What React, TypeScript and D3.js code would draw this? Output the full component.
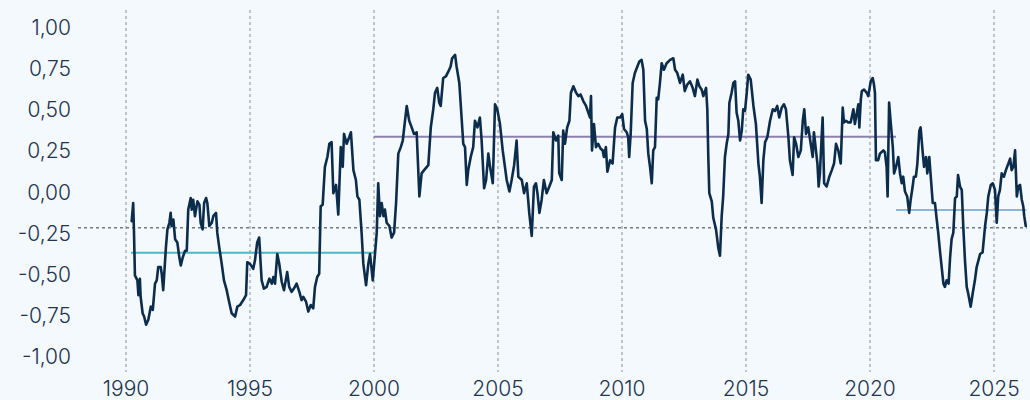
import React from "react";
import * as d3 from "d3";

// decimal year, value
const series: [number, number][] = [
  [1990.23,-0.18],[1990.29,-0.07],[1990.32,-0.23],[1990.36,-0.51],[1990.46,-0.54],[1990.50,-0.63],[1990.56,-0.53],[1990.59,-0.64],
  [1990.67,-0.74],[1990.73,-0.76],[1990.81,-0.81],[1990.90,-0.78],[1991.00,-0.70],[1991.08,-0.72],[1991.17,-0.56],[1991.24,-0.54],
  [1991.30,-0.46],[1991.40,-0.46],[1991.44,-0.50],[1991.50,-0.60],[1991.61,-0.34],[1991.67,-0.23],[1991.75,-0.19],[1991.80,-0.13],
  [1991.84,-0.21],[1991.91,-0.17],[1991.98,-0.29],[1992.07,-0.31],[1992.15,-0.40],[1992.21,-0.45],[1992.29,-0.40],[1992.38,-0.36],
  [1992.45,-0.36],[1992.51,-0.11],[1992.61,-0.04],[1992.65,-0.11],[1992.71,-0.05],[1992.78,-0.15],[1992.88,-0.06],[1992.96,-0.08],
  [1993.01,-0.19],[1993.09,-0.23],[1993.15,-0.07],[1993.23,-0.04],[1993.28,-0.07],[1993.36,-0.21],[1993.46,-0.19],[1993.52,-0.15],
  [1993.63,-0.13],[1993.68,-0.25],[1993.76,-0.34],[1993.86,-0.44],[1993.95,-0.54],[1994.06,-0.60],[1994.17,-0.68],[1994.26,-0.74],
  [1994.40,-0.76],[1994.49,-0.70],[1994.60,-0.69],[1994.73,-0.66],[1994.84,-0.63],[1994.89,-0.43],[1995.00,-0.44],[1995.13,-0.47],
  [1995.20,-0.42],[1995.29,-0.31],[1995.37,-0.28],[1995.43,-0.44],[1995.47,-0.54],[1995.56,-0.59],[1995.67,-0.58],[1995.78,-0.53],
  [1995.88,-0.56],[1995.94,-0.52],[1996.01,-0.56],[1996.10,-0.38],[1996.18,-0.44],[1996.28,-0.55],[1996.37,-0.60],[1996.50,-0.49],
  [1996.58,-0.58],[1996.68,-0.61],[1996.77,-0.59],[1996.88,-0.56],[1996.99,-0.61],[1997.08,-0.66],[1997.15,-0.64],[1997.26,-0.67],
  [1997.35,-0.73],[1997.45,-0.69],[1997.55,-0.71],[1997.62,-0.58],[1997.71,-0.52],[1997.79,-0.50],[1997.85,-0.09],[1997.93,-0.08],
  [1998.02,0.15],[1998.12,0.21],[1998.20,0.29],[1998.29,0.30],[1998.36,-0.01],[1998.47,0.04],[1998.56,-0.14],[1998.66,0.27],
  [1998.74,0.15],[1998.79,0.35],[1998.90,0.29],[1999.00,0.33],[1999.07,0.36],[1999.17,0.13],[1999.27,0.07],[1999.33,-0.03],
  [1999.41,-0.05],[1999.50,-0.25],[1999.57,-0.44],[1999.68,-0.57],[1999.77,-0.44],[1999.84,-0.38],[1999.95,-0.54],[2000.04,-0.38],
  [2000.11,-0.25],[2000.17,0.05],[2000.24,-0.15],[2000.31,-0.07],[2000.38,-0.15],[2000.44,-0.11],[2000.51,-0.19],[2000.62,-0.21],
  [2000.71,-0.28],[2000.81,-0.25],[2000.89,-0.07],[2000.98,0.23],[2001.08,0.27],[2001.16,0.31],[2001.25,0.43],[2001.32,0.52],
  [2001.42,0.43],[2001.52,0.39],[2001.61,0.35],[2001.72,0.36],[2001.83,-0.03],[2001.92,0.11],[2002.02,0.13],[2002.19,0.16],
  [2002.29,0.39],[2002.39,0.50],[2002.46,0.60],[2002.55,0.63],[2002.63,0.54],[2002.69,0.52],[2002.79,0.69],[2002.90,0.70],
  [2003.00,0.73],[2003.09,0.76],[2003.15,0.81],[2003.27,0.83],[2003.33,0.76],[2003.44,0.66],[2003.54,0.43],[2003.60,0.29],
  [2003.67,0.27],[2003.74,0.04],[2003.80,0.13],[2003.90,0.21],[2004.00,0.27],[2004.07,0.43],[2004.17,0.39],[2004.27,0.45],
  [2004.34,0.31],[2004.44,0.02],[2004.52,0.07],[2004.61,0.23],[2004.68,0.15],[2004.79,0.05],[2004.88,0.53],[2004.97,0.50],
  [2005.08,0.41],[2005.19,0.25],[2005.28,0.15],[2005.35,0.07],[2005.46,0.00],[2005.55,0.07],[2005.65,0.16],[2005.75,0.31],
  [2005.82,0.09],[2005.96,0.07],[2006.05,-0.01],[2006.16,0.05],[2006.26,-0.13],[2006.36,-0.27],[2006.45,0.03],[2006.53,0.05],
  [2006.59,-0.01],[2006.67,-0.13],[2006.76,-0.05],[2006.85,0.07],[2006.96,-0.01],[2007.07,0.03],[2007.17,0.07],[2007.23,0.36],
  [2007.34,0.31],[2007.43,0.34],[2007.47,0.11],[2007.57,0.07],[2007.63,0.37],[2007.70,0.29],[2007.79,0.39],[2007.88,0.43],
  [2007.94,0.60],[2008.04,0.64],[2008.15,0.60],[2008.24,0.58],[2008.33,0.59],[2008.44,0.55],[2008.55,0.52],[2008.64,0.48],
  [2008.71,0.45],[2008.75,0.58],[2008.79,0.25],[2008.87,0.41],[2008.95,0.27],[2009.04,0.29],[2009.14,0.26],[2009.22,0.25],
  [2009.27,0.21],[2009.35,0.27],[2009.41,0.12],[2009.52,0.19],[2009.62,0.17],[2009.72,0.39],[2009.81,0.45],[2009.92,0.45],
  [2010.01,0.47],[2010.08,0.38],[2010.19,0.36],[2010.25,0.33],[2010.29,0.21],[2010.35,0.35],[2010.43,0.66],[2010.52,0.72],
  [2010.62,0.76],[2010.70,0.79],[2010.79,0.80],[2010.86,0.74],[2010.93,0.43],[2011.00,0.38],[2011.06,0.23],[2011.13,0.15],
  [2011.20,0.05],[2011.26,0.25],[2011.33,0.27],[2011.40,0.57],[2011.46,0.56],[2011.53,0.66],[2011.60,0.78],[2011.69,0.74],
  [2011.80,0.78],[2011.94,0.80],[2012.07,0.81],[2012.14,0.74],[2012.23,0.72],[2012.34,0.66],[2012.45,0.71],[2012.53,0.61],
  [2012.63,0.65],[2012.74,0.67],[2012.85,0.63],[2012.94,0.58],[2013.04,0.68],[2013.12,0.64],[2013.21,0.62],[2013.28,0.58],
  [2013.39,0.63],[2013.44,0.50],[2013.48,0.21],[2013.52,-0.01],[2013.62,-0.06],[2013.68,-0.16],[2013.79,-0.23],[2013.88,-0.34],
  [2013.95,-0.39],[2014.02,-0.15],[2014.08,-0.03],[2014.15,0.21],[2014.22,0.29],[2014.29,0.35],[2014.33,0.54],[2014.42,0.60],
  [2014.49,0.66],[2014.56,0.67],[2014.62,0.48],[2014.69,0.43],[2014.76,0.31],[2014.83,0.37],[2014.89,0.50],[2014.96,0.49],
  [2015.03,0.60],[2015.09,0.71],[2015.19,0.68],[2015.30,0.52],[2015.40,0.41],[2015.50,0.17],[2015.56,0.09],[2015.63,-0.07],
  [2015.70,0.19],[2015.77,0.30],[2015.86,0.33],[2015.97,0.43],[2016.08,0.50],[2016.17,0.49],[2016.26,0.52],[2016.34,0.45],
  [2016.44,0.51],[2016.53,0.53],[2016.61,0.50],[2016.71,0.33],[2016.77,0.19],[2016.88,0.10],[2016.94,0.33],[2017.02,0.29],
  [2017.11,0.21],[2017.21,0.25],[2017.29,0.43],[2017.35,0.50],[2017.42,0.35],[2017.51,0.39],[2017.61,0.29],[2017.69,0.21],
  [2017.74,0.36],[2017.82,0.25],[2017.88,0.17],[2017.93,0.03],[2017.98,0.11],[2018.05,0.33],[2018.09,0.45],[2018.15,0.05],
  [2018.25,0.03],[2018.36,0.09],[2018.46,0.13],[2018.55,0.17],[2018.63,0.29],[2018.72,0.25],[2018.82,0.17],[2018.90,0.51],
  [2018.95,0.42],[2019.03,0.43],[2019.12,0.42],[2019.22,0.42],[2019.33,0.50],[2019.39,0.41],[2019.46,0.47],[2019.53,0.53],
  [2019.57,0.39],[2019.63,0.56],[2019.67,0.61],[2019.76,0.62],[2019.87,0.60],[2019.93,0.58],[2020.03,0.67],[2020.11,0.69],
  [2020.16,0.65],[2020.20,0.60],[2020.24,0.19],[2020.33,0.19],[2020.40,0.23],[2020.47,0.24],[2020.54,0.25],[2020.60,0.24],
  [2020.67,0.15],[2020.71,-0.03],[2020.77,0.54],[2020.83,0.43],[2020.92,0.27],[2020.97,0.11],[2021.05,0.15],[2021.14,0.21],
  [2021.21,0.11],[2021.28,0.05],[2021.34,0.09],[2021.41,0.00],[2021.50,-0.03],[2021.58,-0.13],[2021.64,-0.05],[2021.72,0.03],
  [2021.77,0.09],[2021.85,0.09],[2021.91,0.17],[2021.99,0.37],[2022.04,0.39],[2022.13,0.23],[2022.18,0.15],[2022.26,0.21],
  [2022.31,0.11],[2022.39,0.21],[2022.45,0.09],[2022.53,-0.07],[2022.62,-0.07],[2022.69,-0.17],[2022.75,-0.25],[2022.82,-0.36],
  [2022.89,-0.46],[2022.96,-0.56],[2023.02,-0.58],[2023.09,-0.54],[2023.17,-0.56],[2023.23,-0.40],[2023.29,-0.29],[2023.36,-0.25],
  [2023.43,-0.04],[2023.50,-0.03],[2023.55,0.10],[2023.63,0.03],[2023.70,0.01],[2023.76,-0.21],[2023.83,-0.42],[2023.90,-0.58],
  [2023.96,-0.62],[2024.06,-0.70],[2024.14,-0.62],[2024.23,-0.54],[2024.30,-0.46],[2024.37,-0.42],[2024.44,-0.38],[2024.54,-0.37],
  [2024.64,-0.21],[2024.71,-0.13],[2024.77,-0.03],[2024.87,0.04],[2024.95,0.05],[2025.04,0.01],[2025.11,-0.19],[2025.17,-0.03],
  [2025.24,0.01],[2025.31,0.11],[2025.40,0.09],[2025.48,0.13],[2025.58,0.17],[2025.65,0.20],[2025.71,0.13],[2025.78,0.15],
  [2025.85,0.25],[2025.92,-0.03],[2025.98,0.03],[2026.05,0.04],[2026.12,-0.05],[2026.18,-0.09],[2026.22,-0.15],[2026.28,-0.21],
];

// period averages: [start, end, value, colour]
const periodAverages: [number, number, number, string][] = [
  [1990.2, 2000.0, -0.372, "#4bb9c4"],
  [2000.0, 2021.05, 0.333, "#8e80aa"],
  [2021.05, 2026.3, -0.112, "#88b6dd"],
];

const currentLevel = -0.22;
const yTicks = [1, 0.75, 0.5, 0.25, 0, -0.25, -0.5, -0.75, -1];
const xTicks = [1990, 1995, 2000, 2005, 2010, 2015, 2020, 2025];

const W = 1030;
const H = 400;

export default function App() {
  const x = d3.scaleLinear().domain([1990, 2025]).range([126, 994]);
  const y = d3.scaleLinear().domain([-1, 1]).range([356, 27]);
  const fmt = (v: number) => (v < 0 ? "-" : "") + Math.abs(v).toFixed(2).replace(".", ",");
  const line = d3
    .line<[number, number]>()
    .x((d) => x(d[0]))
    .y((d) => y(d[1]));
  const textColor = "#22344f";
  const font = "Inter, 'Noto Sans', sans-serif";

  return (
    <svg
      width={W}
      height={H}
      style={{ position: "fixed", left: 0, top: 0, display: "block" }}
    >
      <rect x={0} y={0} width={W} height={H} fill="#f4f9fd" />
      {xTicks.map((t) => (
        <g key={t}>
          <line
            x1={x(t)}
            x2={x(t)}
            y1={10}
            y2={372}
            stroke="#a3a6aa"
            strokeWidth={1.3}
            strokeDasharray="3,3"
          />
          <text
            x={x(t)}
            y={396}
            textAnchor="middle"
            fontSize={21}
            fontFamily={font}
            fontWeight={300}
            fill={textColor}
          >
            {t}
          </text>
        </g>
      ))}
      {yTicks.map((t) => (
        <text
          key={t}
          x={71}
          y={y(t) + 8}
          textAnchor="end"
          fontSize={21}
          fontFamily={font}
          fontWeight={300}
          fill={textColor}
        >
          {fmt(t)}
        </text>
      ))}
      <line
        x1={78}
        x2={1027}
        y1={y(currentLevel)}
        y2={y(currentLevel)}
        stroke="#6e7a88"
        strokeWidth={1.5}
        strokeDasharray="3,3"
      />
      {periodAverages.map(([a, b, v, c], i) => (
        <line key={i} x1={x(a)} x2={x(b)} y1={y(v)} y2={y(v)} stroke={c} strokeWidth={2} />
      ))}
      <path
        d={line(series) || ""}
        fill="none"
        stroke="#0c2c4c"
        strokeWidth={2.6}
        strokeLinejoin="round"
        strokeLinecap="round"
      />
    </svg>
  );
}
